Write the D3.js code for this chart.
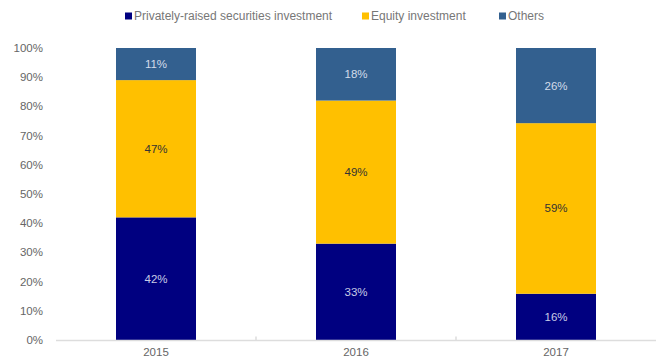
<!DOCTYPE html>
<html>
<head>
<meta charset="utf-8">
<script src="https://cdn.jsdelivr.net/npm/d3@7"></script>
<style>
  html, body { margin: 0; padding: 0; background: #fff; }
  svg { display: block; font-family: "Liberation Sans", Arial, sans-serif; }
</style>
</head>
<body>
<svg id="chart" width="656" height="363"></svg>
<script>
// Investment mix by year (percent of total)
const years = ["2015", "2016", "2017"];
const seriesNames = ["Privately-raised securities investment", "Equity investment", "Others"];
const privatelyRaised = [42, 33, 16];
const equity = [47, 49, 59];
const others = [11, 18, 26];
const yTicks = [0, 0.1, 0.2, 0.3, 0.4, 0.5, 0.6, 0.7, 0.8, 0.9, 1.0];

const colors = ["#000080", "#FFC000", "#33608F"];
const labelColors = ["#c9cde6", "#333333", "#d4dcea"];

const rows = years.map((y, i) => ({
  year: y,
  [seriesNames[0]]: privatelyRaised[i],
  [seriesNames[1]]: equity[i],
  [seriesNames[2]]: others[i]
}));

const stack = d3.stack().keys(seriesNames).offset(d3.stackOffsetExpand);
const layers = stack(rows);

const svg = d3.select("#chart");
const margin = { left: 56, right: 0, top: 48, bottom: 23 };
const W = 656, H = 363;

const x = d3.scaleBand().domain(years).range([margin.left, W - margin.right]).paddingInner(0.6).paddingOuter(0.3);
const xBand = d3.scaleBand().domain(years).range([margin.left, W - margin.right]);
const y = d3.scaleLinear().domain([0, 1]).range([H - margin.bottom, margin.top]);

// Bars
const g = svg.append("g");
layers.forEach((layer, si) => {
  g.selectAll(null)
    .data(layer)
    .join("rect")
    .attr("x", d => x(d.data.year))
    .attr("width", x.bandwidth())
    .attr("y", d => y(d[1]))
    .attr("height", d => y(d[0]) - y(d[1]))
    .attr("fill", colors[si]);

  g.selectAll(null)
    .data(layer)
    .join("text")
    .attr("x", d => x(d.data.year) + x.bandwidth() / 2)
    .attr("y", d => (y(d[0]) + y(d[1])) / 2)
    .attr("dy", "0.35em")
    .attr("text-anchor", "middle")
    .attr("font-size", 11.5)
    .attr("fill", labelColors[si])
    .text(d => d.data[seriesNames[si]] + "%");
});

// Y axis labels
svg.append("g")
  .selectAll("text")
  .data(yTicks)
  .join("text")
  .attr("x", 43)
  .attr("y", d => y(d))
  .attr("dy", "0.35em")
  .attr("text-anchor", "end")
  .attr("font-size", 11.5)
  .attr("fill", "#666")
  .text(d => d3.format(".0%")(d));

// X axis baseline and category dividers
const axisY = y(0) + 0.5;
svg.append("line")
  .attr("x1", margin.left).attr("x2", W)
  .attr("y1", axisY).attr("y2", axisY)
  .attr("stroke", "#dddddd").attr("stroke-width", 1.5);

svg.append("g")
  .selectAll("line")
  .data(years.slice(1))
  .join("line")
  .attr("x1", d => xBand(d)).attr("x2", d => xBand(d))
  .attr("y1", axisY).attr("y2", axisY - 4)
  .attr("stroke", "#dddddd").attr("stroke-width", 1.5);

svg.append("g")
  .selectAll("text")
  .data(years)
  .join("text")
  .attr("x", d => x(d) + x.bandwidth() / 2)
  .attr("y", 356)
  .attr("text-anchor", "middle")
  .attr("font-size", 11.5)
  .attr("fill", "#666")
  .text(d => d);

// Legend
const legendX = [125, 362, 499];
const legend = svg.append("g");
seriesNames.forEach((name, i) => {
  legend.append("rect")
    .attr("x", legendX[i]).attr("y", 12.5)
    .attr("width", 7).attr("height", 7)
    .attr("fill", colors[i]);
  legend.append("text")
    .attr("x", legendX[i] + 9).attr("y", 16)
    .attr("dy", "0.35em")
    .attr("font-size", 12)
    .attr("fill", "#777")
    .text(name);
});
</script>
</body>
</html>
